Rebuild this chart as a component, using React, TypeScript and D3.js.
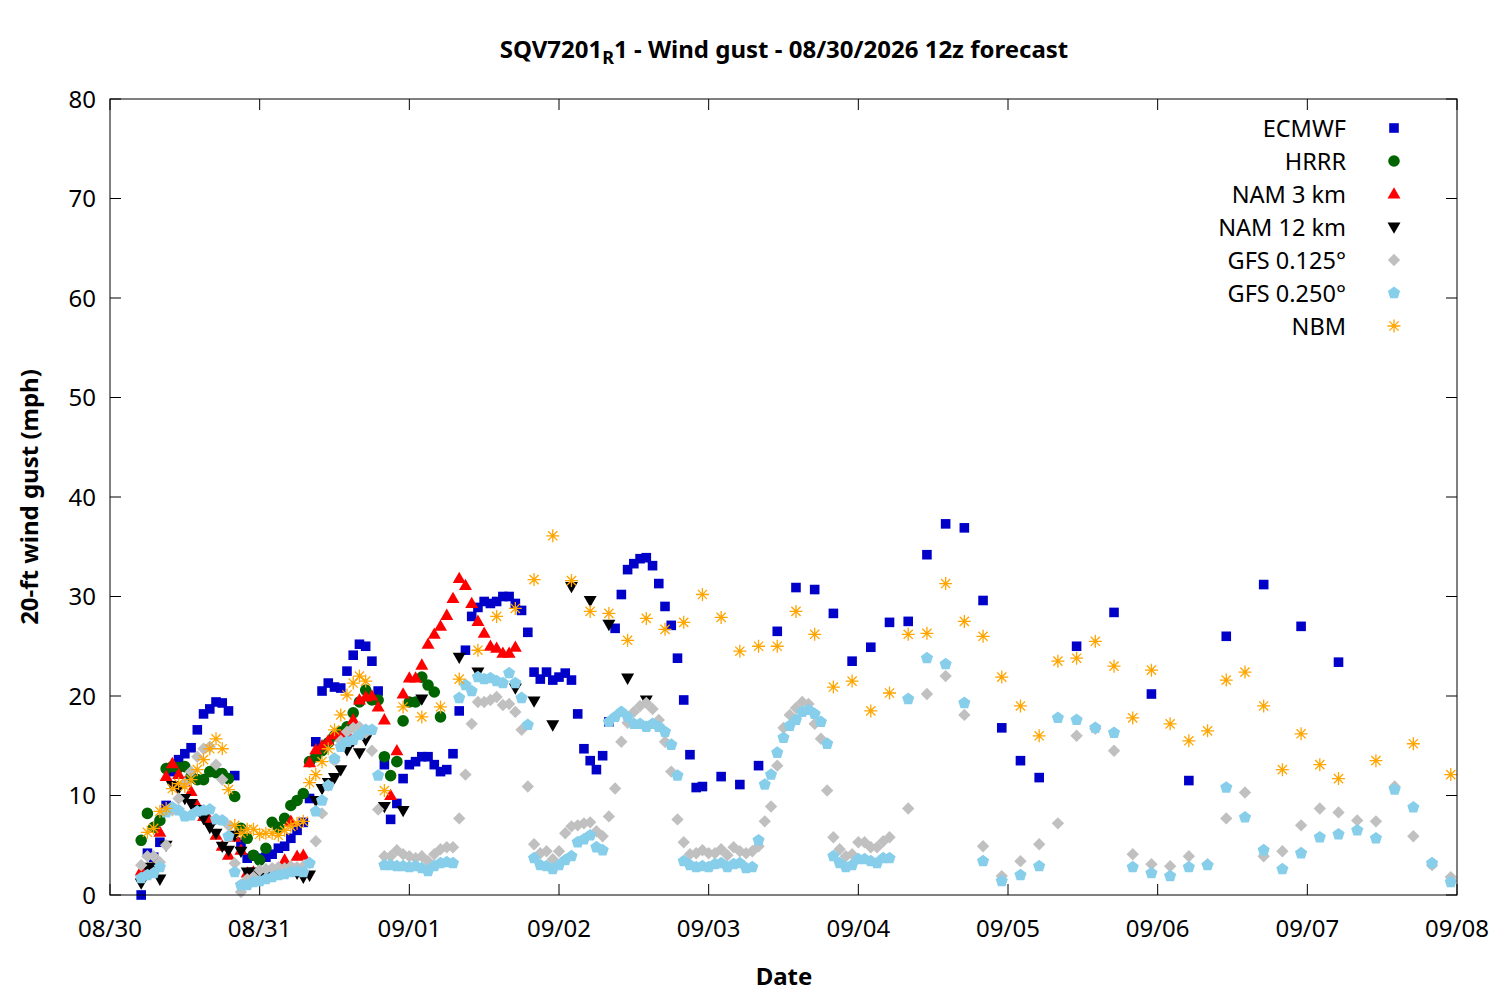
import * as d3 from "d3";

// hours after 08/30 00:00 (local); first forecast point is 05:00
const ecmwfHourly = [
  0.0, 4.2, 3.8, 5.3, 9.0, 12.4, 13.6, 14.2, 14.8, 16.6, 18.2, 18.7, 19.4, 19.3, 18.5, 12.0,
  5.3, 3.7, 3.9, 3.7, 3.8, 4.1, 4.7, 4.9, 5.7, 6.5, 7.3, 9.7, 15.4, 20.5, 21.3, 20.9,
  20.8, 22.5, 24.1, 25.2, 25.0, 23.5, 20.5, 13.1, 7.6, 9.2, 11.7, 13.1, 13.4, 13.9, 13.9, 13.1,
  12.4, 12.6, 14.2, 18.5, 24.6, 28.0, 28.9, 29.5, 29.3, 29.5, 30.0, 30.0, 29.3, 28.6, 26.4, 22.4,
  21.7, 22.4, 21.6, 21.9, 22.3, 21.6, 18.2, 14.7, 13.5, 12.6, 14.0, 17.4, 26.8, 30.2, 32.7, 33.3,
  33.8, 33.9, 33.1, 31.3, 29.0, 27.1, 23.8, 19.6, 14.1, 10.8, 10.9,
];
const ecmwf3h = [11.9, 11.1, 13.0, 26.5, 30.9, 30.7, 28.3, 23.5, 24.9, 27.4, 27.5, 34.2, 37.3, 36.9, 29.6, 16.8, 13.5, 11.8];
const ecmwf6h = [25.0, 28.4, 20.2, 11.5, 26.0, 31.2, 27.0, 23.4];

const hrrrHourly = [
  5.5, 8.2, 6.8, 7.5, 12.7, 12.9, 12.8, 12.9, 11.9, 11.6, 11.6, 12.4, 12.3, 12.2, 11.7, 9.9,
  6.7, 5.7, 4.0, 3.5, 4.7, 7.3, 6.8, 7.7, 9.0, 9.5, 10.2, 13.4, 13.9, 14.5, 15.3, 16.0,
  16.4, 16.9, 18.3, 19.4, 20.6, 19.6, 19.6, 13.9, 12.0, 13.4, 17.5, 19.4, 19.4, 21.9, 21.1, 20.4,
  17.9,
];

const nam3Hourly = [
  2.4, 2.6, 2.8, 6.3, 11.9, 13.2, 12.1, 11.3, 10.4, 9.0, 7.9, 7.5, 6.0, 4.9, 4.0, 5.8,
  4.5, 2.2, 2.3, 2.2, 2.1, 2.2, 2.4, 3.5, 7.4, 3.9, 4.0, 13.3, 14.6, 15.0, 15.5, 16.1,
  16.0, 16.3, 17.6, 19.6, 19.9, 20.0, 18.9, 17.6, 10.0, 14.5, 20.2, 21.8, 21.8, 23.1, 25.2, 26.2,
  27.0, 28.1, 29.8, 31.8, 31.1, 29.3, 27.5, 26.3, 25.0, 24.8, 24.3, 24.3, 24.9,
];

const nam12Hourly = [
  1.2, 2.8, 2.8, 1.6, 5.0, 11.0, 10.7, 9.7, 9.2, 8.6, 7.7, 6.8, 6.2, 4.9, 4.5, 6.0,
  4.4, 2.3, 2.3, 2.2, 2.1, 2.2, 2.3, 2.5, 2.7, 2.2, 1.8, 2.0, 9.5, 10.7, 11.3, 11.8,
  12.6, 14.6, 15.5, 14.3, 15.6,
];
const nam12_3h = [8.9, 8.5, 19.7, null, 23.9, 22.4, null, 20.8, 19.5, 17.1, 31.0, 29.6, 27.2, 21.8, 19.6];

const gfs125Hourly = [
  3.0, 3.9, 3.9, 3.3, 5.0, 8.5, 9.7, 11.2, 12.4, 13.9, 14.7, 14.9, 13.1, 11.6, 7.0, 3.2,
  0.3, 1.6, 1.8, 2.5, 2.6, 2.7, 2.8, 2.7, 2.9, 2.8, 2.9, 3.2, 5.4, 8.2, 11.0, 13.5,
  15.5, 16.4, 16.8, 16.9, 16.3, 14.5, 8.6, 3.9, 3.9, 4.5, 4.1, 3.9, 3.7, 3.9, 3.4, 4.1,
  4.6, 4.8, 4.8, 7.7, 12.1, 17.2, 19.4, 19.4, 19.6, 19.9, 19.1, 19.2, 18.4, 16.6, 10.9, 5.1,
  4.2, 4.4, 3.6, 4.4, 6.2, 6.9, 7.0, 7.2, 7.3, 6.4, 5.9, 7.9, 10.7, 15.4, 17.3, 18.4,
  19.0, 19.3, 18.7, 17.6, 15.4, 12.4, 7.6, 5.3, 4.1, 4.2, 4.5, 4.2, 4.2, 4.6, 4.0, 4.8,
  4.4, 4.2, 4.4, 4.9, 7.4, 8.9, 13.0, 16.8, 18.1, 18.8, 19.4, 19.2, 17.2, 15.7, 10.5, 5.8,
  4.6, 3.9, 4.1, 5.3, 5.3, 4.8, 4.8, 5.4, 5.8,
];
const gfs125_3h = [
  8.7, 20.2, 22.0, 18.1, 4.9, 1.9, 3.4, 5.1, 7.2, 16.0, 16.7, 14.5, 4.1, 3.1, 2.9,
  3.9, 3.1, 7.7, 10.3, 3.9, 4.4, 7.0, 8.7, 8.3, 7.5, 7.4, 10.9, 5.9, 3.0, 1.8,
];

const gfs250Hourly = [
  1.7, 2.0, 2.2, 2.8, 8.3, 8.8, 8.5, 7.9, 8.0, 8.4, 8.5, 8.6, 7.6, 7.5, 5.9, 2.3,
  1.0, 1.0, 1.3, 1.4, 1.6, 1.8, 2.0, 2.1, 2.3, 2.4, 2.3, 3.2, 8.4, 9.5, 11.0, 13.7,
  14.9, 15.4, 15.6, 16.1, 16.6, 16.6, 12.0, 3.0, 3.0, 2.9, 2.9, 2.8, 2.9, 2.7, 2.4, 2.9,
  3.2, 3.3, 3.2, 19.8, 21.1, 20.5, 21.9, 21.7, 21.8, 21.5, 21.3, 22.3, 21.3, 19.8, 17.1, 3.7,
  3.0, 2.9, 2.6, 3.0, 3.5, 3.9, 5.3, 5.6, 6.0, 4.8, 4.5, 17.4, 17.9, 18.4, 17.9, 17.2,
  17.2, 16.9, 17.2, 16.9, 16.4, 15.1, 12.0, 3.4, 3.0, 2.8, 2.9, 2.8, 3.1, 3.2, 2.8, 3.1,
  3.2, 2.7, 2.8, 5.5, 11.1, 12.1, 14.3, 15.8, 17.0, 17.6, 18.4, 18.6, 18.2, 17.4, 15.2, 3.9,
  3.2, 2.8, 3.0, 3.6, 3.6, 3.4, 3.2, 3.7, 3.7,
];
const gfs250_3h = [
  19.7, 23.8, 23.2, 19.3, 3.4, 1.4, 2.0, 2.9, 17.8, 17.6, 16.8, 16.3, 2.8, 2.2, 1.9,
  2.8, 3.0, 10.8, 7.8, 4.5, 2.6, 4.2, 5.8, 6.1, 6.5, 5.7, 10.6, 8.8, 3.2, 1.3,
];

const nbmHourly = [
  6.3, 6.7, 8.4, 8.7, 10.7, 11.2, 10.9, 11.6, 12.6, 13.6, 14.7, 15.7, 14.7, 10.6, 7.0, 6.2,
  6.6, 6.6, 6.1, 6.2, 6.2, 6.0, 6.5, 6.9, 7.2, 7.4, 11.3, 12.1, 13.4, 14.7, 16.6, 18.1,
  20.1, 21.3, 22.0, 21.5,
];
const nbm3h = [
  10.5, 18.9, 17.9, 18.9, 21.7, 24.6, 28.0, 28.8, 31.7, 36.1, 31.6, 28.5, 28.3, 25.6, 27.8, 26.7,
  27.4, 30.2, 27.9, 24.5, 25.0, 25.0, 28.5, 26.2, 20.9, 21.5, 18.5, 20.3, 26.2, 26.3, 31.3, 27.5,
  26.0, 21.9, 19.0, 16.0, 23.5, 23.8, 25.5, 23.0, 17.8, 22.6, 17.2, 15.5, 16.5, 21.6, 22.4, 19.0,
  12.6, 16.2, 13.1, 11.7,
];
const nbm6h = [13.5, 15.2, 12.1];

const yTicks = [0, 10, 20, 30, 40, 50, 60, 70, 80];

const W = 1500;
const H = 1000;
const M = { left: 110, right: 1457, top: 99, bottom: 895 };
const FONT = "'Noto Sans', sans-serif";
const T0 = Date.UTC(2026, 7, 30);
const HOUR = 3600e3;

function seg(start, step, vals) {
  return vals
    .map((v, i) => ({ t: new Date(T0 + (start + i * step) * HOUR), v }))
    .filter((p) => p.v != null);
}

function pentagon(r) {
  const pts = d3.range(5).map((i) => {
    const a = -Math.PI / 2 + (i * 2 * Math.PI) / 5;
    return [r * Math.cos(a), r * Math.sin(a)];
  });
  return "M" + pts.map((p) => p.join(",")).join("L") + "Z";
}

const shapes = {
  square: { d: "M-4.8,-4.8h9.6v9.6h-9.6Z" },
  circle: { d: d3.symbol(d3.symbolCircle, Math.PI * 5.8 * 5.8)() },
  triUp: { d: "M0,-6.8L6.5,4.5L-6.5,4.5Z" },
  triDown: { d: "M0,6.8L6.5,-4.5L-6.5,-4.5Z" },
  diamond: { d: "M0,-6.2L6.2,0L0,6.2L-6.2,0Z" },
  pentagon: { d: pentagon(6.4) },
  asterisk: { d: "M-6.5,0H6.5M0,-6.5V6.5M-4.6,-4.6L4.6,4.6M-4.6,4.6L4.6,-4.6", stroke: true },
};

const series = [
  { name: "ECMWF", color: "#0000c8", shape: "square", pts: [...seg(5, 1, ecmwfHourly), ...seg(98, 3, ecmwf3h), ...seg(155, 6, ecmwf6h)] },
  { name: "HRRR", color: "#006400", shape: "circle", pts: seg(5, 1, hrrrHourly) },
  { name: "NAM 3 km", color: "#ff0000", shape: "triUp", pts: seg(5, 1, nam3Hourly) },
  { name: "NAM 12 km", color: "#000000", shape: "triDown", pts: [...seg(5, 1, nam12Hourly), ...seg(44, 3, nam12_3h)] },
  { name: "GFS 0.125°", color: "#c0c0c0", shape: "diamond", pts: [...seg(5, 1, gfs125Hourly), ...seg(128, 3, gfs125_3h)] },
  { name: "GFS 0.250°", color: "#87ceeb", shape: "pentagon", pts: [...seg(5, 1, gfs250Hourly), ...seg(128, 3, gfs250_3h)] },
  { name: "NBM", color: "#ffa500", shape: "asterisk", pts: [...seg(6, 1, nbmHourly), ...seg(44, 3, nbm3h), ...seg(203, 6, nbm6h)] },
];

function Marker({ shape, color, x, y }) {
  const s = shapes[shape];
  return s.stroke ? (
    <path d={s.d} transform={`translate(${x},${y})`} fill="none" stroke={color} strokeWidth={1.3} />
  ) : (
    <path d={s.d} transform={`translate(${x},${y})`} fill={color} />
  );
}

export default function App() {
  const x = d3.scaleUtc([new Date(T0), new Date(T0 + 216 * HOUR)], [M.left, M.right]);
  const y = d3.scaleLinear([0, 80], [M.bottom, M.top]);
  const xTicks = d3.range(10).map((d) => new Date(T0 + d * 24 * HOUR));
  const fmt = d3.utcFormat("%m/%d");
  const tick = 11;

  return (
    <svg width={W} height={H} style={{ position: "absolute", left: 0, top: 0, background: "#fff" }} fontFamily={FONT}>
      <rect width={W} height={H} fill="#fff" />
      <text x={784} y={58} textAnchor="middle" fontSize={24} fontWeight="bold">
        SQV7201<tspan fontSize={18} dy={6}>R</tspan>
        <tspan dy={-6}>1 - Wind gust - 08/30/2026 12z forecast</tspan>
      </text>

      <g stroke="#000" strokeWidth={1}>
        {yTicks.map((t) => (
          <g key={"y" + t}>
            <line x1={M.left} x2={M.left + tick} y1={y(t)} y2={y(t)} />
            <line x1={M.right} x2={M.right - tick} y1={y(t)} y2={y(t)} />
          </g>
        ))}
        {xTicks.map((t, i) => (
          <g key={"x" + i}>
            <line x1={x(t)} x2={x(t)} y1={M.bottom} y2={M.bottom - tick} />
            <line x1={x(t)} x2={x(t)} y1={M.top} y2={M.top + tick} />
          </g>
        ))}
      </g>

      <g fontSize={24}>
        {yTicks.map((t) => (
          <text key={"yl" + t} x={96} y={y(t) + 8.5} textAnchor="end">{t}</text>
        ))}
        {xTicks.map((t, i) => (
          <text key={"xl" + i} x={x(t)} y={937} textAnchor="middle">{fmt(t)}</text>
        ))}
      </g>

      <text x={784} y={985} textAnchor="middle" fontSize={24} fontWeight="bold">Date</text>
      <text transform="translate(38,497) rotate(-90)" textAnchor="middle" fontSize={24} fontWeight="bold">
        20-ft wind gust (mph)
      </text>

      {series.map((s) => (
        <g key={s.name}>
          {s.pts.map((p, i) => (
            <Marker key={i} shape={s.shape} color={s.color} x={x(p.t)} y={y(p.v)} />
          ))}
        </g>
      ))}

      <g fontSize={23.5}>
        {series.map((s, i) => (
          <g key={"lg" + s.name}>
            <text x={1346} y={128 + i * 33 + 8.5} textAnchor="end">{s.name}</text>
            <Marker shape={s.shape} color={s.color} x={1394} y={128 + i * 33} />
          </g>
        ))}
      </g>

      <rect x={M.left} y={M.top} width={M.right - M.left} height={M.bottom - M.top} fill="none" stroke="#000" strokeWidth={1} />
    </svg>
  );
}
